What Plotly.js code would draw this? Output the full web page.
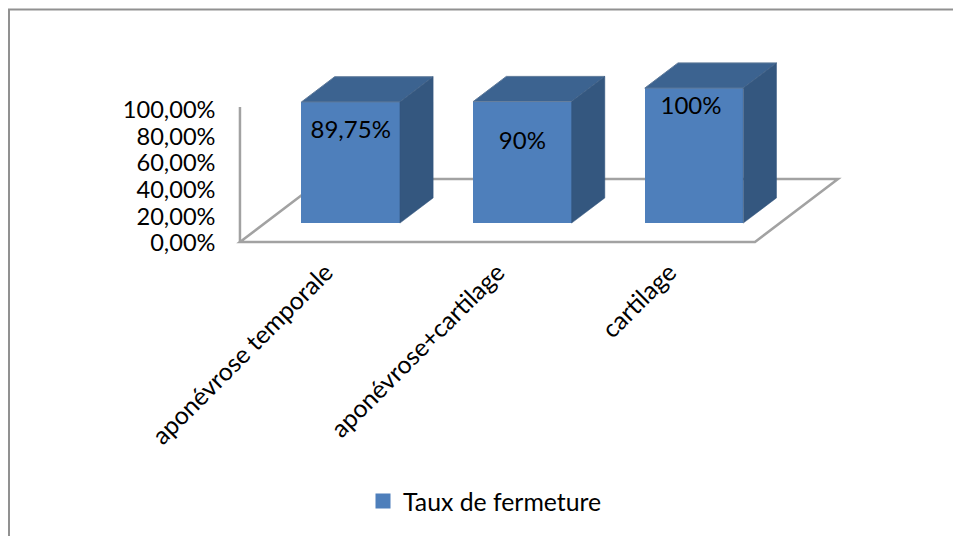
<!DOCTYPE html>
<html><head><meta charset="utf-8">
<script src="https://cdn.plot.ly/plotly-3.0.1.min.js"></script>
<style>html,body{margin:0;padding:0;background:#fff}#c{width:953px;height:536px}</style>
</head><body><div id="c"></div>
<script>
const categories = ["aponévrose temporale", "aponévrose+cartilage", "cartilage"];
const values = [89.75, 90, 100];
const valueLabels = ["89,75%", "90%", "100%"];
const tickValues = [0, 20, 40, 60, 80, 100];
const tickLabels = ["0,00%", "20,00%", "40,00%", "60,00%", "80,00%", "100,00%"];
const seriesName = "Taux de fermeture";

// Oblique projection of the 3D look, in data units
const W = 953, H = 536, FONT = "Lato, 'Open Sans', sans-serif";
const pxX = 171.67, pxY = 1.35, x0px = 325.8, y0px = 242;
const depthX = 83 / pxX, depthY = 63 / pxY;
const barW = 98.5 / pxX, nearD = 0.3, farD = 0.7;
const labelDrop = [30, 41, 20], labelShift = [0, 0, -3];

const xRange = [(0 - x0px) / pxX, (W - x0px) / pxX];
const yRange = [(y0px - H) / pxY, y0px / pxY];
const px = (i, d) => i + d * depthX;
const py = (v, d) => v + d * depthY;

const colFront = "#4e7fbb", colTop = "#3c6390", colSide = "#34577f";
const traces = [];
const cx = categories.map((_, i) => px(i, nearD));
traces.push({type: "bar", x: cx, y: values, base: values.map(() => py(0, nearD)), width: barW,
  xaxis: "x", yaxis: "y2", showlegend: false, hoverinfo: "skip",
  marker: {color: colFront, line: {width: 0}}});
values.forEach((v, i) => {
  const l = i - barW / 2, r = i + barW / 2;
  const tx = [l + nearD * depthX, r + nearD * depthX, r + farD * depthX, l + farD * depthX, l + nearD * depthX];
  const ty = [py(v, nearD), py(v, nearD), py(v, farD), py(v, farD), py(v, nearD)];
  traces.push({type: "scatter", mode: "lines", x: tx, y: ty, fill: "toself", fillcolor: colTop,
    line: {color: "#5f7a9a", width: 1}, xaxis: "x", yaxis: "y2", showlegend: false, hoverinfo: "skip"});
  const sx = [r + nearD * depthX, r + farD * depthX, r + farD * depthX, r + nearD * depthX, r + nearD * depthX];
  const sy = [py(v, nearD), py(v, farD), py(0, farD), py(0, nearD), py(v, nearD)];
  traces.push({type: "scatter", mode: "lines", x: sx, y: sy, fill: "toself", fillcolor: colSide,
    line: {color: colSide, width: 0.5}, xaxis: "x", yaxis: "y2", showlegend: false, hoverinfo: "skip"});
});
traces.push({type: "scatter", mode: "text", x: cx.map((c, i) => c + labelShift[i] / pxX),
  y: values.map((v, i) => py(v, nearD) - labelDrop[i] / pxY), text: valueLabels,
  textposition: "middle center", textfont: {family: FONT, size: 24, color: "#000"},
  xaxis: "x", yaxis: "y2", showlegend: false, hoverinfo: "skip"});
traces.push({type: "scatter", mode: "markers", x: [null], y: [null], name: seriesName,
  marker: {symbol: "square", size: 15, color: colFront}, xaxis: "x", yaxis: "y"});

const gridCol = "#a2a2a2";
const floor = [[-0.5, 0, 0], [2.5, 0, 0], [2.5, 1, 0], [-0.5, 1, 0]]
  .map(p => [px(p[0], p[1]), py(p[2], p[1])]);
const floorPath = "M" + floor.map(p => p[0] + "," + p[1]).join(" L") + " Z";
const shapes = [
  {type: "path", xref: "x", yref: "y2", path: floorPath, layer: "below", line: {color: gridCol, width: 2.5}},
  {type: "line", xref: "x", yref: "y2", x0: px(-0.5, 0), x1: px(-0.5, 0), y0: 0, y1: 100, layer: "below", line: {color: gridCol, width: 2.5}},
  {type: "path", xref: "paper", yref: "paper", layer: "below", line: {color: "#919191", width: 2},
   path: `M${9 / W},0 L${9 / W},${1 - 9.5 / H} L1,${1 - 9.5 / H}`}
];

const layout = {
  width: W, height: H, margin: {l: 0, r: 0, t: 0, b: 0, pad: 0},
  paper_bgcolor: "#fff", plot_bgcolor: "rgba(0,0,0,0)", bargap: 0,
  font: {family: FONT, color: "#000", size: 22.5},
  xaxis: {domain: [0, 1], range: xRange, anchor: "y", tickmode: "array", tickvals: categories.map((_, i) => i),
    ticktext: categories, tickangle: -45, showgrid: false, zeroline: false, showline: false, ticks: "",
    ticklabelstandoff: 9, tickfont: {family: FONT, size: 24.8, color: "#000"}, fixedrange: true},
  yaxis: {domain: [1 - 243 / H, 1 - 110 / H], range: [0, 100], anchor: "free", position: 239.5 / W,
    tickmode: "array", tickvals: tickValues, ticktext: tickLabels, showgrid: false, zeroline: false,
    showline: false, ticks: "", ticklabelstandoff: 24, tickfont: {family: FONT, size: 23.6, color: "#000"}, fixedrange: true},
  yaxis2: {domain: [0, 1], range: yRange, anchor: "x", visible: false, fixedrange: true},
  showlegend: true,
  legend: {x: 363 / W, y: 1 - 478.5 / H, xanchor: "left", yanchor: "top", bgcolor: "rgba(0,0,0,0)",
    font: {family: FONT, size: 24.8, color: "#000"}, itemwidth: 30},
  shapes: shapes
};
Plotly.newPlot("c", traces, layout, {displayModeBar: false, responsive: false});
</script></body></html>
